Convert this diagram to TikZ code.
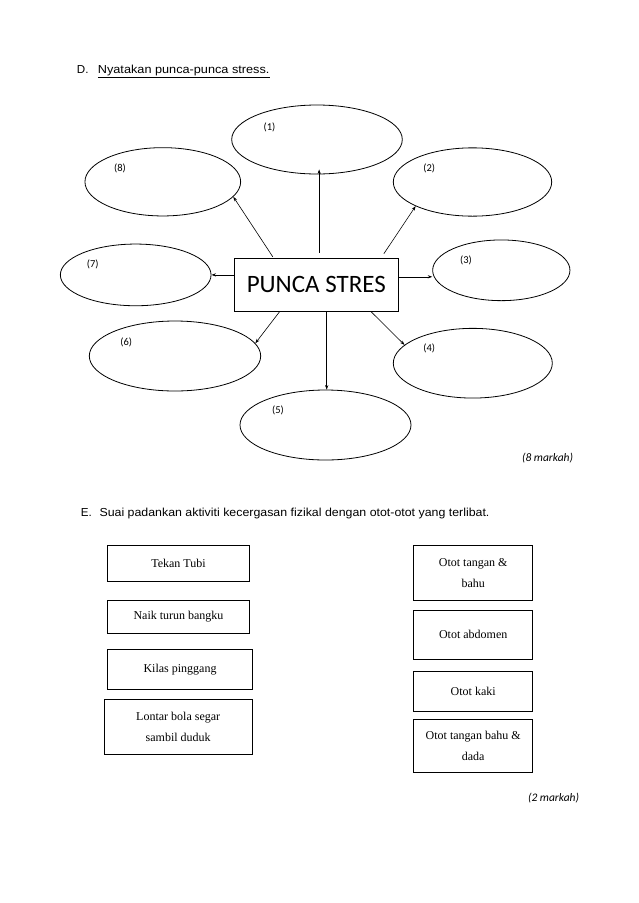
\documentclass[tikz,border=0pt]{standalone}
\usepackage{fontspec}
\usepackage{graphicx}
\setmainfont{Liberation Serif}
\newfontfamily\arialf{Liberation Sans}
\newfontfamily\calib{Carlito}
\usetikzlibrary{shapes.geometric,arrows.meta}
\begin{document}
\begin{tikzpicture}[x=1pt,y=-1pt,
  ell/.style={ellipse,draw,line width=0.8pt,inner sep=0pt},
  lab/.style={font=\calib\fontsize{10.5}{12}\selectfont,inner sep=0pt},
  arr/.style={-{Stealth[length=4.5pt,width=3.2pt]},line width=0.6pt},
  mbox/.style={draw,line width=0.9pt,inner sep=0pt,font=\fontsize{12}{20.7}\selectfont,align=center},
  head/.style={anchor=base west,inner sep=0pt,font=\arialf\fontsize{11.6}{14}\selectfont},
  marktxt/.style={anchor=base east,inner sep=0pt,font=\calib\itshape\fontsize{11.5}{14}\selectfont}
]
\useasboundingbox[fill=white] (0,0) rectangle (638,903);

% Section D heading
\node[head] (hd) at (76.7,73.3) {D.};
\node[head] (hdt) at (97.7,73.3) {\underline{\resizebox{171.6pt}{\height}{Nyatakan punca-punca stress.}}};

% ellipses
\node[ell,minimum width=170.6,minimum height=69] (e1) at (317,139.5) {};
\node[ell,minimum width=158.4,minimum height=68.3] (e2) at (472.5,182) {};
\node[ell,minimum width=137.3,minimum height=60.7] (e3) at (501.3,270.3) {};
\node[ell,minimum width=159,minimum height=69.7] (e4) at (472.8,363.2) {};
\node[ell,minimum width=171,minimum height=70] (e5) at (325.5,425) {};
\node[ell,minimum width=171.4,minimum height=70] (e6) at (175,356) {};
\node[ell,minimum width=150.7,minimum height=61.7] (e7) at (135.7,274.9) {};
\node[ell,minimum width=155.7,minimum height=68.3] (e8) at (162.8,181.8) {};

% labels
\node[lab] (l1) at (269.5,127.3) {(1)};
\node[lab] (l2) at (429.3,168.3) {(2)};
\node[lab] (l3) at (466,260) {(3)};
\node[lab] (l4) at (429.3,348.7) {(4)};
\node[lab] (l5) at (278,410.7) {(5)};
\node[lab] (l6) at (126.3,342.7) {(6)};
\node[lab] (l7) at (92.8,264.3) {(7)};
\node[lab] (l8) at (120,168.3) {(8)};

% central box
\node[draw,line width=1.1pt,minimum width=164,minimum height=53,inner sep=0pt,
      font=\calib\fontsize{25}{30}\selectfont] (box) at (316.3,284.8) {PUNCA STRES};

% arrows
\draw[arr] ([xshift=85.4pt,yshift=5pt]box.north west) -- ([xshift=85.4pt,yshift=5pt]box.north west |- e1.south);
\draw[arr] ([xshift=39pt,yshift=1pt]box.north west) -- (e8.-12);
\draw[arr] ([xshift=-15pt,yshift=4pt]box.north east) -- (e2.-157);
\draw[arr] (e7 -| box.west) -- (e7.east);
\draw[arr] ([yshift=8pt]box.east) -- ([yshift=8pt]box.east -| e3.west);
\draw[arr] ([xshift=45.7pt]box.south west) -- (e6.9);
\draw[arr] ([xshift=10.4pt]box.south) -- ([xshift=10.4pt]box.south |- e5.north);
\draw[arr] ([xshift=-27.6pt]box.south east) -- (e4.165);

\node[marktxt] (m8) at (573.3,461.7) {(8 markah)};

% Section E heading
\node[head] (he) at (80.7,516.7) {E.};
\node[head] (het) at (99.3,516.7) {\resizebox{390pt}{\height}{Suai padankan aktiviti kecergasan fizikal dengan otot-otot yang terlibat.}};

% left boxes
\node[mbox,minimum width=141.6,minimum height=35.6] (a1) at (178.5,563.5) {Tekan Tubi};
\node[mbox,minimum width=141.6,minimum height=33] (a2) at (178.5,616.8) {Naik turun bangku};
\node[mbox,minimum width=144.6,minimum height=40] (a3) at (180,669.3) {Kilas pinggang};
\node[mbox,minimum width=148.3,minimum height=55] (a4) at (178.2,726.8) {Lontar bola segar\\sambil duduk};

% right boxes
\node[mbox,minimum width=119,minimum height=54.6] (b1) at (473.2,573) {Otot tangan \&\\bahu};
\node[mbox,minimum width=119,minimum height=49] (b2) at (473.2,634.8) {Otot abdomen};
\node[mbox,minimum width=119,minimum height=40.3] (b3) at (473.2,691.2) {Otot kaki};
\node[mbox,minimum width=119,minimum height=53.3] (b4) at (473.2,745.7) {Otot tangan bahu \&\\dada};

\node[marktxt] (m2) at (579.3,801) {(2 markah)};
\end{tikzpicture}
\end{document}
